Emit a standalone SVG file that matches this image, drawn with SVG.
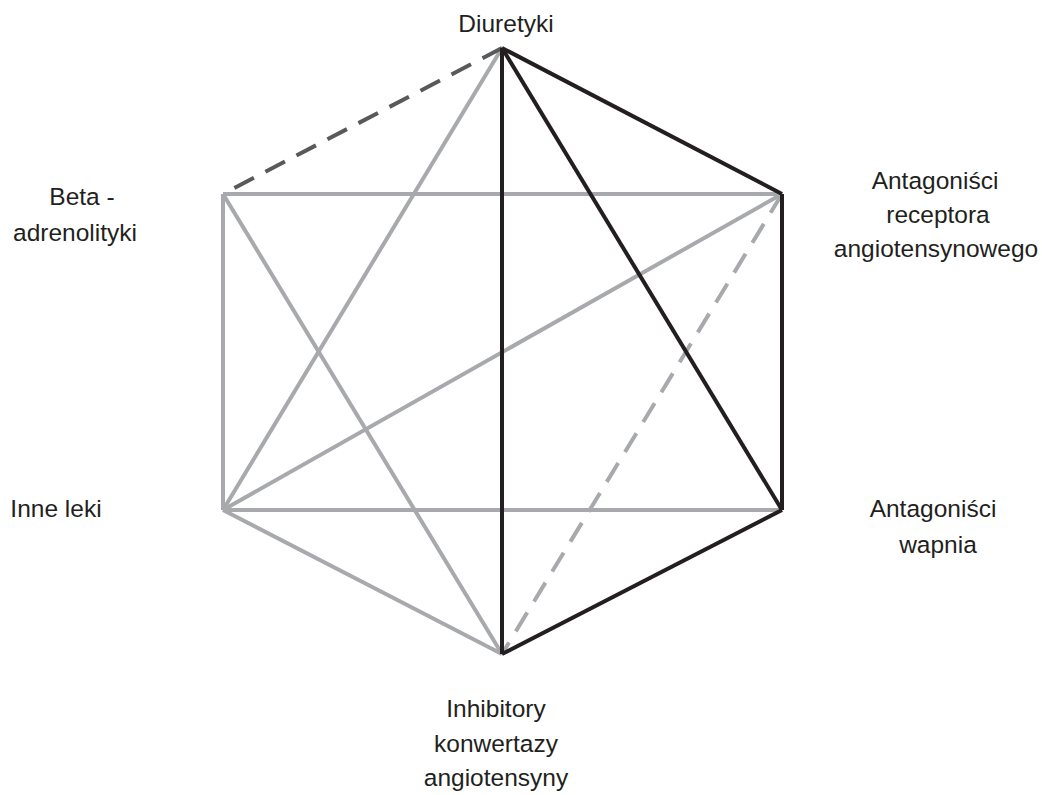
<svg xmlns="http://www.w3.org/2000/svg" width="1042" height="795" viewBox="0 0 1042 795">
<style>
.l{stroke-width:4;stroke-linecap:butt;fill:none}
.k{stroke:#231f20}
.g{stroke:#a7a9ac}
.d{stroke:#58595b;stroke-dasharray:22 13}
.gd{stroke:#a7a9ac;stroke-dasharray:22 13}
text{font-family:"Liberation Sans",Arial,sans-serif;font-size:24.5px;fill:#231f20;text-anchor:middle}
</style>
<rect width="1042" height="795" fill="#fff"/>
<g id="connectors">
<line class="l g" x1="502" y1="48" x2="223" y2="510"/>
<line class="l g" x1="223" y1="194" x2="782" y2="194"/>
<line class="l g" x1="223" y1="194" x2="502" y2="654"/>
<line class="l g" x1="223" y1="194" x2="223" y2="510"/>
<line class="l g" x1="782" y1="194" x2="223" y2="510"/>
<line class="l g" x1="223" y1="510" x2="782" y2="510"/>
<line class="l g" x1="223" y1="510" x2="502" y2="654"/>
<line class="l gd" x1="782" y1="194" x2="502" y2="654"/>
<line class="l d" x1="502" y1="48" x2="223" y2="194"/>
<line class="l k" x1="502" y1="48" x2="782" y2="194"/>
<line class="l k" x1="502" y1="48" x2="782" y2="510"/>
<line class="l k" x1="502" y1="48" x2="502" y2="654"/>
<line class="l k" x1="782" y1="194" x2="782" y2="510"/>
<line class="l k" x1="782" y1="510" x2="502" y2="654"/>
</g>
<g id="diuretyki"><text x="506" y="32">Diuretyki</text></g>
<g id="beta"><text x="82" y="205">Beta -</text><text x="75" y="241">adrenolityki</text></g>
<g id="arb"><text x="935" y="189">Antagoniści</text><text x="938" y="223">receptora</text><text x="936" y="257">angiotensynowego</text></g>
<g id="inne"><text x="56" y="517">Inne leki</text></g>
<g id="ccb"><text x="933" y="517">Antagoniści</text><text x="938" y="553">wapnia</text></g>
<g id="ace"><text x="496" y="717">Inhibitory</text><text x="496" y="752">konwertazy</text><text x="496" y="786">angiotensyny</text></g>
</svg>
